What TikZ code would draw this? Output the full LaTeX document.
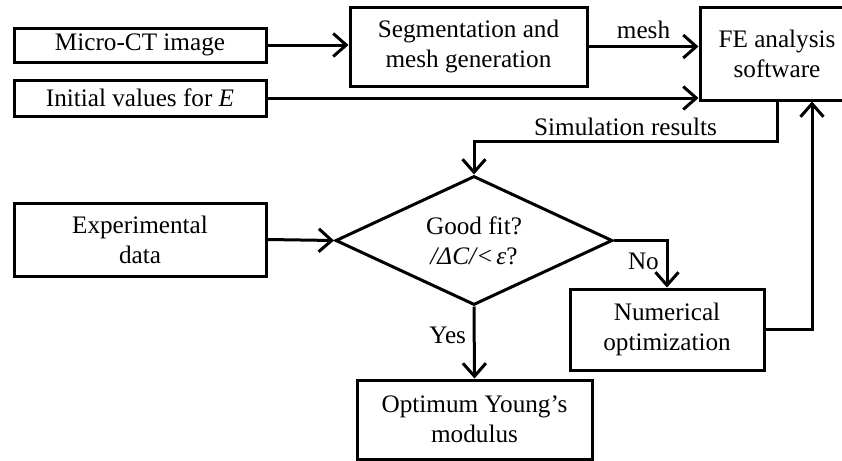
\documentclass[tikz,border=0pt]{standalone}
\usepackage{fontspec}
\setmainfont{Liberation Serif}
\usetikzlibrary{arrows.meta,shapes.geometric,calc}

\tikzset{
  box/.style={draw, line width=1.5pt, rectangle, align=center, inner sep=0pt},
  decision/.style={draw, line width=1.5pt, diamond, aspect=2.15, inner sep=0pt,
    minimum width=138.5pt, minimum height=64.5pt, align=center},
  arr/.style={line width=1.5pt, -{Straight Barb[length=6.5pt,width=11.5pt,line width=1.5pt]}}
}

\begin{document}
\begin{tikzpicture}[x=0.5pt, y=-0.5pt, font=\fontsize{12.6}{15}\selectfont]
                \useasboundingbox (0,0) rectangle (842,461);

                \node[box, minimum width=126pt, minimum height=17pt] (micro) at (140,45) {Micro-CT image};
                \node[box, minimum width=126pt, minimum height=18pt] (init) at (140,98) {Initial values for \textit{E}};
                \node[box, minimum width=118.5pt, minimum height=39.5pt] (seg) at (468.5,46.5) {Segmentation and\\mesh generation};
                \node[box, minimum width=77pt, minimum height=46.5pt] (fe) at (777,53.5) {FE analysis\\software};
                \node[box, minimum width=126pt, minimum height=36.5pt] (exp) at (140,239.5) {Experimental\\data};
                \node[decision] (fit) at (474,240.5) {Good fit?\\\textit{/ΔC/}<\,\textit{ε}?};
                \node[box, minimum width=97pt, minimum height=40.5pt] (num) at (667,329.5) {Numerical\\optimization};
                \node[box, minimum width=117.5pt, minimum height=39.5pt] (opt) at (474.5,419.5) {Optimum Young’s\\modulus};

                \draw[arr] (micro.east) -- (micro.east -| seg.west);
                \draw[arr] (seg.east) -- node[above] {mesh} (seg.east -| fe.west);
                \draw[arr] (init.east) -- (init.east -| fe.west);
                \draw[arr] (fe.south) -- ++(0,40) -| node[pos=0.25, above, yshift=-1pt] {Simulation results} (fit.north);
                \draw[arr] (exp.east) -- (fit.west);
                \draw[arr] (fit.east) -| node[pos=0.72, left] {No} (num.north);
                \draw[arr] (fit.south) -- node[left, pos=0.4] {Yes} (opt.north);
                \draw[arr] (num.east) -| ($(fe.south)+(35,0)$);

            \end{tikzpicture}
\end{document}
